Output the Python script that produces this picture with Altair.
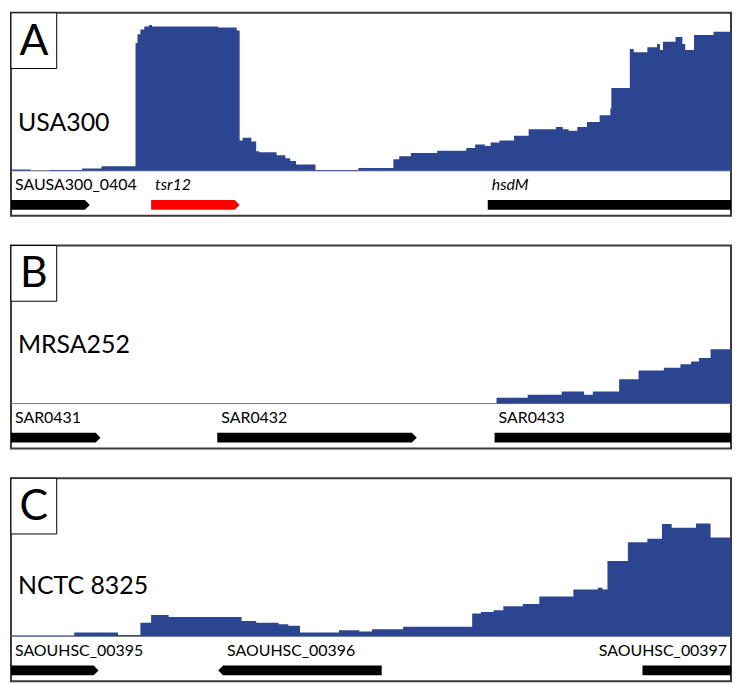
import altair as alt
import pandas as pd

# ---------------- data ----------------
X_MAX = 740
Y_MIN, Y_MAX = -46, 162
BLUE = "#2c4590"
FONT = "Lato"

# Panel A (USA300) coverage: step start positions and depth
a_pos = [0, 20, 40, 73, 93, 128, 130, 133, 137, 142, 145, 213, 232, 235, 238, 247, 252, 255,
         273, 282, 287, 293, 313, 357, 393, 399, 411, 438, 468, 477, 487, 493, 502, 517, 532,
         560, 567, 573, 582, 592, 605, 616, 617, 636, 640, 654, 664, 667, 670, 683, 690, 693,
         702, 722]
a_dep = [1.5, 0.3, 0.8, 2.3, 4.7, 131, 140, 145, 148, 149.5, 148, 147, 144, 31, 34, 30, 20, 19,
         16, 13, 10, 6.5, 1, 3, 12, 15, 18.3, 20.7, 23.5, 27, 25.5, 29, 31, 36, 42.7,
         45, 42.7, 41, 45, 50, 57, 64, 85, 125, 121.7, 126.7, 130, 124, 132.3, 137.3, 130, 124,
         139.3, 142.7]

# Panel B (MRSA252)
b_pos = [499, 531, 566, 589, 598, 625, 645, 671, 688, 699, 707, 719]
b_dep = [6, 9, 12.3, 9, 12.3, 25, 34, 36.8, 40.3, 43.2, 46.7, 55.7]

# Panel C (NCTC 8325)
c_pos = [0, 65, 110, 133, 144, 162, 237, 252, 275, 285, 297, 337, 358, 371, 403, 474, 483, 496,
         506, 526, 543, 578, 603, 608, 613, 634, 654, 669, 679, 704, 719]
c_dep = [0.8, 4, 1.3, 14, 21.7, 19.7, 15.7, 14, 12.3, 10.7, 4, 6.3, 5, 7.3, 9.7, 23.3, 25, 26.7,
         30.7, 33, 40.7, 48, 49.7, 48, 77.3, 96.3, 100, 115, 111.3, 115.7, 101.3]

# Genes: name, start, end, strand, colour, italic, label anchor
a_genes = [("SAUSA300_0404", 0, 81, "+", "black", False, "start"),
           ("tsr12", 144, 235, "+", "#ff0000", True, "start"),
           ("hsdM", 490, 740, ".", "black", True, "start")]
b_genes = [("SAR0431", 0, 92, "+", "black", False, "start"),
           ("SAR0432", 212, 417, "+", "black", False, "start"),
           ("SAR0433", 497, 740, ".", "black", False, "start")]
c_genes = [("SAOUHSC_00395", 0, 90, "+", "black", False, "start"),
           ("SAOUHSC_00396", 213, 381, "-", "black", False, "start"),
           ("SAOUHSC_00397", 649, 740, ".", "black", False, "end")]

letters = ["A", "B", "C"]
strains = ["USA300", "MRSA252", "NCTC 8325"]

# ---------------- build ----------------
HEAD = 5        # arrow head length (x units)
HALF = 5        # half arrow thickness (y units)
TRACK_Y = -35   # arrow centre
LABEL_Y = -15   # gene label centre
W, H = 724, 204

xs = alt.Scale(domain=[0, X_MAX], nice=False, zero=False)
ys = alt.Scale(domain=[Y_MIN, Y_MAX], nice=False, zero=False)


def gene_shapes(genes):
    rows = []
    for name, s, e, strand, col, it, anc in genes:
        lo, hi, mid = TRACK_Y - HALF, TRACK_Y + HALF, TRACK_Y
        if strand == "+":
            pts = [(s, lo, hi), (e - HEAD, lo, hi), (e, mid, mid)]
        elif strand == "-":
            pts = [(s, mid, mid), (s + HEAD, lo, hi), (e, lo, hi)]
        else:
            pts = [(s, lo, hi), (e, lo, hi)]
        for p, l, h in pts:
            rows.append({"gene": name, "pos": p, "lo": l, "hi": h, "col": col})
    return pd.DataFrame(rows)


def gene_labels(genes):
    rows = []
    for name, s, e, strand, col, it, anc in genes:
        body_start = s + HEAD if strand == "-" else s
        rows.append({"gene": name, "pos": body_start if anc == "start" else e,
                     "y": LABEL_Y, "italic": it, "anchor": anc})
    return pd.DataFrame(rows)


def panel(letter, strain, strain_py, pos, dep, genes):
    cov = pd.DataFrame({"pos": pos + [X_MAX], "depth": dep + [dep[-1]]})
    cov["base"] = 0
    X = alt.X("pos:Q", scale=xs, axis=None)

    base = alt.Chart(pd.DataFrame({"v": [0]})).mark_rule(color="#777777", strokeWidth=1).encode(
        y=alt.Y("v:Q", scale=ys, axis=None))

    area = alt.Chart(cov).mark_area(interpolate="step-after", color=BLUE).encode(
        x=X, y=alt.Y("depth:Q", scale=ys, axis=None), y2="base:Q")

    gshape = alt.Chart(gene_shapes(genes)).mark_area(interpolate="linear").encode(
        x=X, y=alt.Y("lo:Q", scale=ys, axis=None), y2="hi:Q",
        color=alt.Color("col:N", scale=None), detail="gene:N")

    gl = alt.Chart(gene_labels(genes))
    txt = dict(font=FONT, fontSize=16, baseline="middle", color="black")
    lab_n = gl.transform_filter("!datum.italic && datum.anchor == 'start'").mark_text(
        align="left", dx=4, **txt).encode(x=X, y=alt.Y("y:Q", scale=ys, axis=None), text="gene:N")
    lab_i = gl.transform_filter("datum.italic && datum.anchor == 'start'").mark_text(
        align="left", dx=4, fontStyle="italic", **txt).encode(
        x=X, y=alt.Y("y:Q", scale=ys, axis=None), text="gene:N")
    lab_r = gl.transform_filter("datum.anchor == 'end'").mark_text(
        align="right", dx=-4, **txt).encode(
        x=X, y=alt.Y("y:Q", scale=ys, axis=None), text="gene:N")

    info = alt.Chart(pd.DataFrame({"letter": [letter], "strain": [strain]}))
    box = info.mark_rect(fill="white", stroke="black", strokeWidth=1).encode(
        x=alt.value(0), x2=alt.value(46), y=alt.value(0), y2=alt.value(56))
    let = info.mark_text(font=FONT, fontSize=43, align="center", baseline="middle",
                         color="black").encode(x=alt.value(23), y=alt.value(29), text="letter:N")
    st = info.mark_text(font=FONT, fontSize=25, align="left", baseline="middle",
                        color="black").encode(x=alt.value(7), y=alt.value(strain_py),
                                              text="strain:N")

    return alt.layer(base, area, gshape, lab_n, lab_i, lab_r, box, let, st).properties(
        width=W, height=H)


pa = panel(letters[0], strains[0], 111, a_pos, a_dep, a_genes)
pb = panel(letters[1], strains[1], 100, b_pos, b_dep, b_genes)
pc = panel(letters[2], strains[2], 108, c_pos, c_dep, c_genes)

chart = alt.vconcat(pa, pb, pc, spacing=27).properties(padding=1).configure_view(
    stroke="#3a3a3a", strokeWidth=2)

chart.save("out.html", embed_options={"renderer": "svg", "actions": False})
